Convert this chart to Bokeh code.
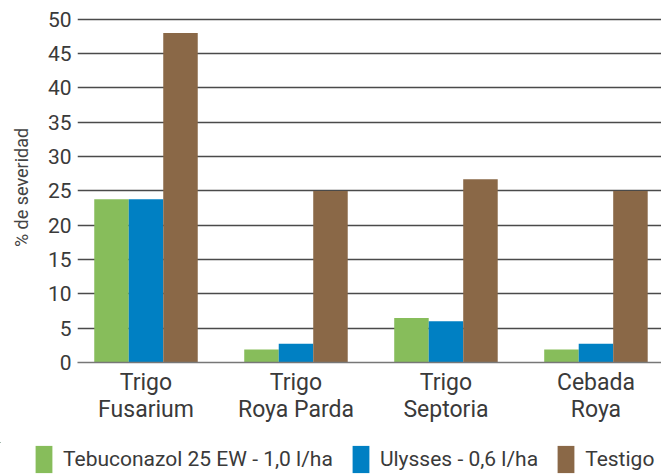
from bokeh.plotting import figure
from bokeh.models import Range1d, FixedTicker, Legend, LegendItem, ColumnDataSource
from bokeh.layouts import column, row
from bokeh.embed import file_html
from bokeh.resources import INLINE

categories = ["Trigo\nFusarium", "Trigo\nRoya Parda", "Trigo\nSeptoria", "Cebada\nRoya"]
series_names = ["Tebuconazol 25 EW - 1,0 l/ha", "Ulysses - 0,6 l/ha", "Testigo"]
tebuconazol = [23.8, 1.9, 6.5, 1.9]
ulysses = [23.8, 2.75, 6.0, 2.75]
testigo = [48.0, 25.0, 26.7, 25.0]
y_ticks = [0, 5, 10, 15, 20, 25, 30, 35, 40, 45, 50]

colors = ["#87BD5B", "#0080C3", "#8A6847"]
FONT = "Roboto"
TXT = "#3a3a3a"

p = figure(width=661, height=442, output_backend="svg", toolbar_location=None,
           x_range=Range1d(0.0433, 3.937), y_range=Range1d(0, 51),
           min_border_left=77, min_border_right=0, min_border_top=12, min_border_bottom=80)
p.outline_line_color = None
p.background_fill_color = "white"
p.border_fill_color = "white"

centers = [i + 0.5 for i in range(len(categories))]
bw = 0.23
offsets = [-bw, 0.0, bw]
series = [tebuconazol, ulysses, testigo]
for vals, off, col in zip(series, offsets, colors):
    src = ColumnDataSource(dict(x=[c + off for c in centers], top=vals))
    p.vbar(x="x", top="top", bottom=0, width=bw, source=src,
           fill_color=col, line_color=None)

# axes
p.xaxis.ticker = FixedTicker(ticks=centers)
p.xaxis.major_label_overrides = {c: lab for c, lab in zip(centers, categories)}
p.xaxis.major_tick_line_color = None
p.xaxis.minor_tick_line_color = None
p.xaxis.axis_line_color = "#777777"
p.xaxis.axis_line_width = 1.5
p.xaxis.major_label_text_font = FONT
p.xaxis.major_label_text_font_size = "23px"
p.xaxis.major_label_text_color = TXT
p.xaxis.major_label_text_line_height = 1.0
p.xaxis.major_label_standoff = 0
p.xgrid.grid_line_color = None

p.yaxis.ticker = FixedTicker(ticks=y_ticks)
p.yaxis.axis_line_color = None
p.yaxis.major_tick_line_color = None
p.yaxis.minor_tick_line_color = None
p.yaxis.major_label_text_font = FONT
p.yaxis.major_label_text_font_size = "21px"
p.yaxis.major_label_text_color = TXT
p.yaxis.major_label_standoff = 0
p.yaxis.axis_label = "% de severidad"
p.yaxis.axis_label_text_font = FONT
p.yaxis.axis_label_text_font_size = "18px"
p.yaxis.axis_label_text_font_style = "normal"
p.yaxis.axis_label_text_color = "#444444"
p.yaxis.axis_label_standoff = 13
p.ygrid.grid_line_color = "#4a4a4a"
p.ygrid.grid_line_width = 1.3

# legend strip (separate figure; its bars lie outside its ranges so only the legend shows)
lg = figure(width=661, height=33, output_backend="svg", toolbar_location=None,
            x_range=Range1d(10, 11), y_range=Range1d(-2, -1),
            min_border_left=0, min_border_right=0, min_border_top=0, min_border_bottom=0)
lg.axis.visible = False
lg.grid.grid_line_color = None
lg.outline_line_color = None
lg.border_fill_color = "white"
lg.background_fill_color = "white"
items = []
for name, vals, col in zip(series_names, series, colors):
    r = lg.vbar(x=centers, top=vals, bottom=0, width=bw, fill_color=col, line_color=None)
    items.append(LegendItem(label=name, renderers=[r]))
legend = Legend(items=items, orientation="horizontal", location=(33, -1),
                glyph_width=21, glyph_height=34, label_standoff=9, spacing=17,
                padding=0, margin=0, border_line_color=None, background_fill_alpha=0,
                label_text_font=FONT, label_text_font_size="21px", label_text_color=TXT)
lg.add_layout(legend, "center")

layout = column(p, row(lg), spacing=0)
open("out.html", "w").write(file_html(layout, INLINE))
